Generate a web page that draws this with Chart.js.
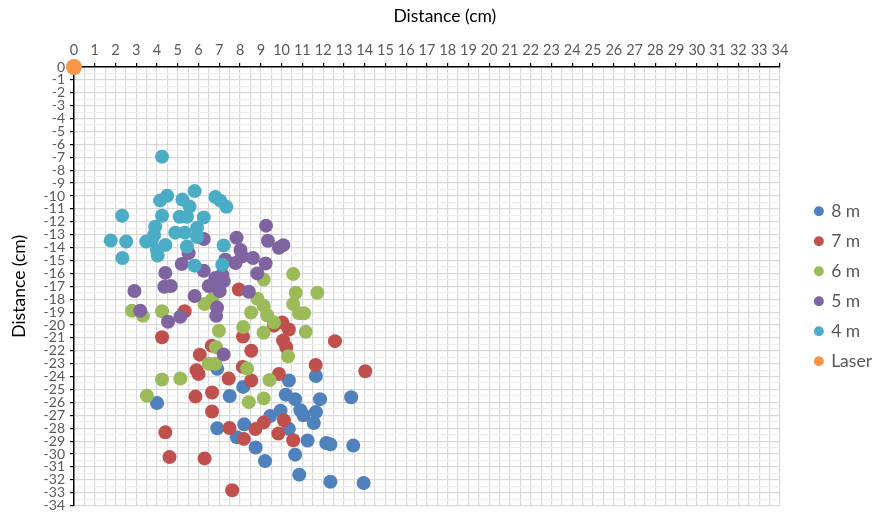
<!DOCTYPE html>
<html>
<head>
<meta charset="utf-8">
<script src="https://cdn.jsdelivr.net/npm/chart.js@4.4.1/dist/chart.umd.min.js"></script>
<style>
  html, body { margin: 0; padding: 0; background: #ffffff; }
  #wrap { width: 877px; height: 519px; }
</style>
</head>
<body>
<div id="wrap"><canvas id="chart" width="877" height="519"></canvas></div>
<script>
// Measured spots, [x, y] in cm, one list per distance
const seriesNames = ['8 m', '7 m', '6 m', '5 m', '4 m', 'Laser'];

const spots8m = [
  [6.9, -23.4], [8.15, -24.8], [7.5, -25.5], [10.35, -24.3], [11.65, -23.95],
  [4.0, -26.05], [10.2, -25.4], [10.65, -25.75], [11.85, -25.75], [13.35, -25.6],
  [9.45, -27.05], [9.95, -26.65], [10.9, -26.6], [11.05, -27.0], [11.65, -26.75],
  [11.55, -27.6], [6.9, -28.0], [8.2, -27.7], [7.85, -28.7], [8.75, -29.5],
  [10.35, -28.05], [11.25, -28.95], [12.15, -29.15], [12.35, -29.25], [13.45, -29.35],
  [10.65, -30.05], [9.2, -30.55], [10.85, -31.6], [12.35, -32.15], [13.95, -32.25]
];

const spots7m = [
  [7.94, -17.25], [5.33, -18.93], [4.24, -20.95], [9.63, -20.05], [10.03, -19.8],
  [10.35, -20.35], [10.07, -21.2], [10.22, -21.7], [12.57, -21.25], [8.14, -20.9],
  [6.64, -21.6], [6.06, -22.3], [8.54, -22.0], [8.13, -23.25], [5.9, -23.5],
  [6.0, -23.8], [7.45, -24.15], [8.54, -24.3], [9.87, -23.8], [11.64, -23.1],
  [14.03, -23.58], [5.85, -25.55], [6.65, -25.23], [6.65, -26.7], [4.4, -28.32],
  [7.49, -27.99], [8.18, -28.83], [8.74, -28.07], [9.14, -27.55], [10.11, -27.38],
  [9.84, -28.42], [10.56, -28.93], [4.6, -30.24], [6.29, -30.34], [7.62, -32.81]
];

const spots6m = [
  [10.56, -16.04], [9.14, -16.48], [10.68, -17.5], [11.72, -17.5], [8.84, -17.96],
  [10.56, -18.38], [9.14, -18.52], [8.53, -19.03], [9.31, -19.26], [9.63, -19.8],
  [10.84, -19.09], [11.08, -19.09], [8.15, -20.16], [9.13, -20.6], [11.16, -20.53],
  [6.98, -20.44], [6.29, -18.37], [6.65, -18.01], [2.79, -18.9], [3.32, -19.29],
  [4.24, -18.93], [6.84, -21.72], [10.31, -22.43], [6.49, -23.0], [6.81, -23.0],
  [8.34, -23.38], [4.24, -24.23], [5.12, -24.15], [9.42, -24.27], [3.51, -25.48],
  [8.42, -25.98], [9.14, -25.69]
];

const spots5m = [
  [9.25, -12.3], [6.25, -13.33], [7.83, -13.24], [9.34, -13.47], [9.87, -14.02],
  [10.08, -13.81], [8.02, -14.18], [7.29, -14.94], [7.78, -15.2], [8.1, -14.68],
  [8.62, -14.81], [9.23, -15.23], [5.52, -14.43], [5.19, -15.27], [6.25, -15.79],
  [4.4, -15.96], [8.83, -16.0], [7.14, -16.09], [6.81, -16.35], [7.21, -16.6],
  [6.49, -16.98], [6.74, -16.96], [7.02, -17.37], [4.66, -16.98], [4.35, -17.04],
  [2.91, -17.37], [5.81, -17.75], [8.42, -17.42], [3.19, -18.9], [4.53, -19.75],
  [5.12, -19.36], [6.89, -18.65], [6.85, -19.29], [7.21, -22.28]
];

const spots4m = [
  [4.24, -6.95], [4.15, -10.34], [4.49, -9.98], [5.81, -9.62], [5.22, -10.28],
  [5.57, -10.82], [6.81, -10.08], [7.05, -10.36], [7.34, -10.84], [2.32, -11.53],
  [4.24, -11.53], [5.09, -11.61], [5.44, -11.61], [6.25, -11.67], [3.91, -12.38],
  [3.86, -13.02], [4.88, -12.84], [5.33, -12.84], [5.93, -12.46], [5.93, -13.18],
  [1.77, -13.45], [2.51, -13.53], [3.48, -13.53], [3.75, -13.41], [4.4, -13.79],
  [4.0, -14.2], [4.03, -14.62], [5.44, -13.91], [7.21, -13.84], [2.33, -14.81],
  [5.81, -15.4], [7.14, -15.33]
];

const laserSpot = [[0, 0]];

const seriesColors = ['#4F81BD', '#C0504D', '#9BBB59', '#8064A2', '#4BACC6', '#F79646'];
const seriesSpots = [spots8m, spots7m, spots6m, spots5m, spots4m, laserSpot];

const axisTitle = 'Distance (cm)';
const FONT = 'Lato, "Open Sans", "Liberation Sans", sans-serif';

const toPoints = arr => arr.map(p => ({ x: p[0], y: p[1] }));

// Later series are painted over earlier ones: 8 m at the bottom, laser on top
const datasets = seriesNames.map((name, i) => ({
  label: name,
  data: toPoints(seriesSpots[i]),
  backgroundColor: seriesColors[i],
  borderColor: seriesColors[i],
  borderWidth: 0,
  pointRadius: name === 'Laser' ? 8 : 7,
  pointHoverRadius: name === 'Laser' ? 8 : 7,
  pointStyle: 'circle',
  clip: false,
  order: seriesNames.length - i
}));

const isWhole = v => Math.abs(v - Math.round(v)) < 1e-6;

new Chart(document.getElementById('chart'), {
  type: 'scatter',
  data: { datasets },
  options: {
    responsive: false,
    animation: false,
    events: [],
    layout: { padding: { top: 0, left: 0, right: -5, bottom: 9 } },
    plugins: {
      legend: {
        position: 'right',
        fullSize: false,
        labels: {
          usePointStyle: true,
          pointStyle: 'circle',
          boxWidth: 7,
          boxHeight: 7,
          padding: 12.5,
          color: '#595959',
          font: { family: FONT, size: 17.5 },
          sort: (a, b) => a.datasetIndex - b.datasetIndex
        }
      },
      tooltip: { enabled: false }
    },
    scales: {
      x: {
        type: 'linear',
        position: 'top',
        min: 0,
        max: 34,
        afterFit: s => { s.height = 67; },
        ticks: {
          stepSize: 0.5,
          autoSkip: false,
          maxRotation: 0,
          padding: 4,
          color: '#595959',
          font: { family: FONT, size: 14.5 },
          callback: v => isWhole(v) ? String(Math.round(v)) : ''
        },
        grid: {
          color: '#d9d9d9',
          lineWidth: 1.2,
          tickLength: 4,
          tickColor: c => isWhole(c.tick.value) ? '#000000' : 'rgba(0,0,0,0)',
          tickWidth: 1.2
        },
        border: { color: '#000000', width: 1.5 },
        title: {
          display: true,
          // leading spaces nudge the title to the right of the axis centre
          text: '        ' + axisTitle,
          color: '#000000',
          font: { family: FONT, size: 17.5 },
          padding: { top: 6, bottom: 0 }
        }
      },
      y: {
        type: 'linear',
        position: 'left',
        min: -34,
        max: 0,
        afterFit: s => { s.width = 74; },
        ticks: {
          stepSize: 0.5,
          autoSkip: false,
          padding: 5,
          color: '#595959',
          font: { family: FONT, size: 14 },
          callback: v => isWhole(v) ? String(Math.round(v)) : ''
        },
        grid: {
          color: c => isWhole(c.tick.value) ? '#d9d9d9' : '#ededed',
          lineWidth: 1.2,
          tickLength: 4,
          tickColor: c => isWhole(c.tick.value) ? '#000000' : 'rgba(0,0,0,0)',
          tickWidth: 1.2
        },
        border: { color: '#000000', width: 1.5 },
        title: {
          display: true,
          text: axisTitle,
          color: '#000000',
          font: { family: FONT, size: 17.5 },
          padding: { top: 9, bottom: 0 }
        }
      },
      gap: {
        type: 'linear',
        axis: 'y',
        position: 'right',
        afterFit: s => { s.width = 23; },
        grid: { display: false, drawTicks: false },
        ticks: { display: false },
        border: { display: false }
      }
    }
  }
});
</script>
</body>
</html>
